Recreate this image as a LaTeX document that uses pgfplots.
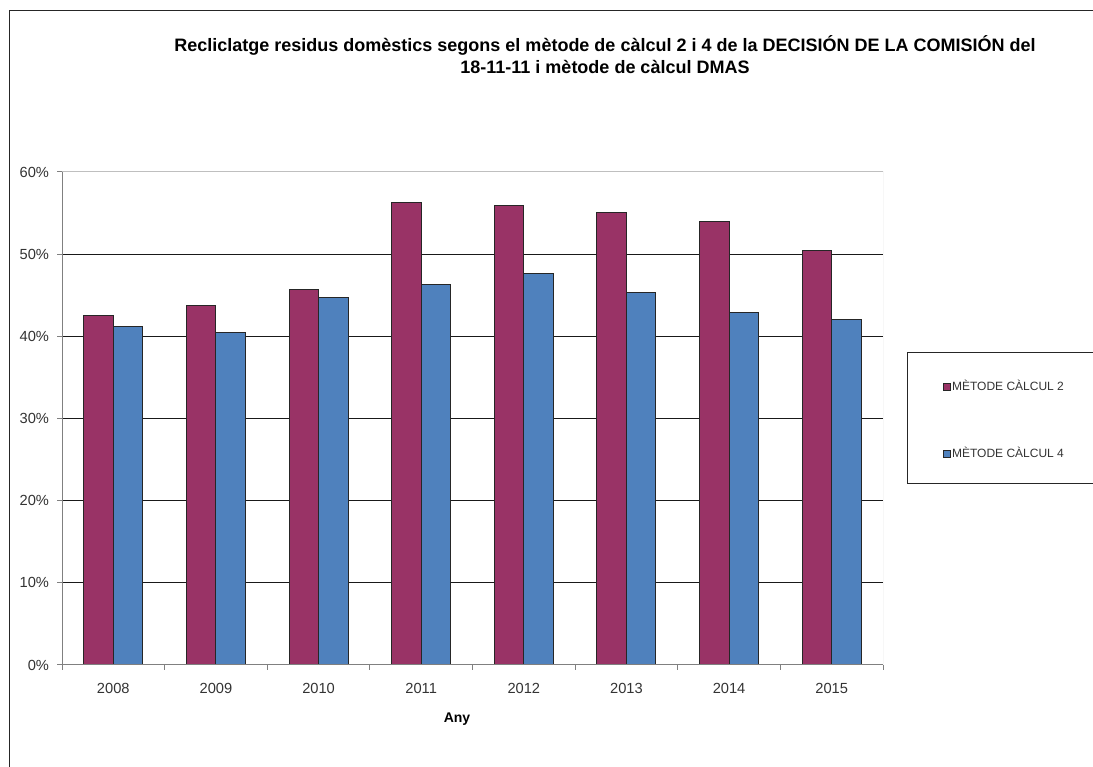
\documentclass[border=0pt]{standalone}
\usepackage{pgfplots}
\pgfplotsset{compat=1.18}
\usepackage{fontspec}
\setmainfont{Liberation Sans}
\definecolor{plum}{HTML}{993366}
\definecolor{steel}{HTML}{4F81BD}
\begin{document}
\begin{tikzpicture}[x=0.75pt,y=0.75pt]
\useasboundingbox (0,0) rectangle (1093,767);
% outer chart frame
\draw[black!85, line width=0.75pt] (9,756) rectangle (1120,-20);
\node[font=\bfseries\fontsize{13.5}{16.5}\selectfont, align=center] at (605,712)
  {Recliclatge residus domèstics segons el mètode de càlcul 2 i 4 de la DECISIÓN DE LA COMISIÓN del\\18-11-11 i mètode de càlcul DMAS};
\begin{axis}[
  at={(46.5pt,76.5pt)}, anchor=south west,
  scale only axis, width=615.75pt, height=369.75pt,
  ybar=0pt, bar width=22.1pt,
  xmin=-0.5, xmax=7.5, ymin=0, ymax=60,
  enlargelimits=false,
  xtick={0,...,7},
  xticklabels={2008,2009,2010,2011,2012,2013,2014,2015},
  minor xtick={-0.5,0.5,...,7.5},
  ytick={0,10,...,60},
  yticklabels={0\%,10\%,20\%,30\%,40\%,50\%,60\%},
  tick pos=left, tick align=outside,
  major tick length=3.75pt, minor tick length=3.75pt,
  major x tick style={draw=none},
  tick style={gray, line width=0.75pt},
  ymajorgrids, grid style={black!90, line width=0.75pt},
  axis line style={draw=none},
  tick label style={font=\fontsize{11}{12}\selectfont, text=black!80},
  xticklabel style={yshift=-6.5pt},
  yticklabel style={xshift=-2.5pt},
  legend style={at={(1.0731,0.578)}, anchor=north west, draw=none, fill=none,
    font=\fontsize{9}{10}\selectfont, text=black!80, row sep=41pt, inner sep=0pt,
    nodes={inner xsep=1pt, inner ysep=0pt}},
  legend cell align=left,
  legend image code/.code={\draw[#1, line width=0.4pt] (0pt,-2.6pt) rectangle (5.2pt,2.6pt);},
]
\addplot[fill=plum, draw=black!85, line width=0.75pt] coordinates {
  (0,42.5) (1,43.7) (2,45.7) (3,56.3) (4,55.9) (5,55.1) (6,54.0) (7,50.5)};
\addplot[fill=steel, draw=black!85, line width=0.75pt] coordinates {
  (0,41.2) (1,40.5) (2,44.7) (3,46.3) (4,47.6) (5,45.3) (6,42.9) (7,42.0)};
\legend{MÈTODE CÀLCUL 2, MÈTODE CÀLCUL 4}
\draw[gray!50, line width=0.75pt] (rel axis cs:0,1) -- (rel axis cs:1,1) -- (rel axis cs:1,0);
\draw[gray, line width=0.75pt] (rel axis cs:0,1) -- (rel axis cs:0,0) -- (rel axis cs:1,0);
\end{axis}
% legend frame
\draw[black!85, line width=0.75pt] (907,414) rectangle (1120,283);
\node[font=\bfseries\fontsize{10.5}{12}\selectfont] at (457,48) {Any};
\end{tikzpicture}
\end{document}
